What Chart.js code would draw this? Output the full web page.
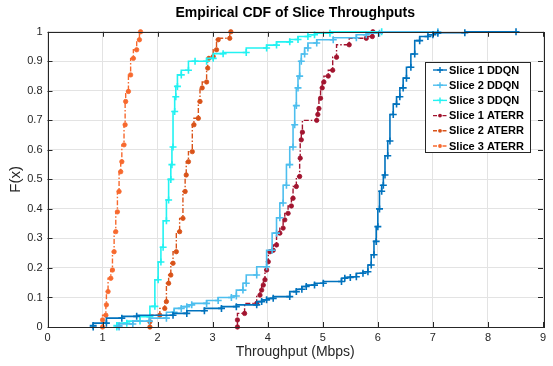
<!doctype html>
<html>
<head>
<meta charset="utf-8" />
<title>Empirical CDF of Slice Throughputs</title>
<style>
  html, body { margin:0; padding:0; background:#fff; }
  #wrap { width:553px; height:366px; }
</style>
<script src="https://cdn.jsdelivr.net/npm/chart.js"></script>
</head>
<body>
<div id="wrap"><canvas id="chart"></canvas></div>
<script>
// throughput (Mbps) and CDF values, one pair of arrays per series
const s1dX = [0.83,0.83,1.07,1.35,1.62,2.28,2.53,2.85,3.16,3.43,3.80,3.89,3.98,4.10,4.40,4.52,4.62,4.70,4.85,5.01,5.34,5.40,5.50,5.61,5.73,5.82,5.88,5.93,5.97,6.00,6.03,6.07,6.10,6.13,6.18,6.22,6.28,6.34,6.40,6.46,6.52,6.60,6.67,6.76,6.91,7.00,7.09,7.58,8.51];
const s1dF = [0,0.005,0.013,0.03,0.036,0.04,0.046,0.055,0.063,0.069,0.075,0.086,0.092,0.097,0.103,0.12,0.128,0.137,0.142,0.148,0.154,0.165,0.168,0.17,0.182,0.187,0.21,0.245,0.29,0.34,0.40,0.46,0.48,0.515,0.58,0.63,0.72,0.755,0.78,0.81,0.843,0.88,0.925,0.97,0.984,0.99,0.995,0.997,1.0];

const s2dX = [1.30,1.30,1.55,1.85,2.16,2.30,2.43,2.53,2.62,2.89,3.10,3.34,3.43,3.55,3.61,3.80,3.98,4.08,4.16,4.22,4.28,4.34,4.40,4.46,4.49,4.52,4.55,4.58,4.61,4.67,4.73,4.89,5.19,5.61,5.79,6.03,7.09];
const s2dF = [0,0.004,0.01,0.02,0.03,0.05,0.063,0.069,0.075,0.08,0.09,0.10,0.105,0.125,0.148,0.176,0.204,0.26,0.318,0.37,0.42,0.48,0.55,0.61,0.685,0.75,0.81,0.85,0.90,0.925,0.945,0.962,0.973,0.98,0.99,0.995,1.0];

const s3dX = [1.26,1.26,1.44,1.68,1.86,1.95,2.01,2.06,2.10,2.16,2.20,2.24,2.26,2.28,2.31,2.33,2.36,2.43,2.56,2.68,2.89,3.01,3.19,3.61,3.98,4.16,4.40,4.55,4.73,4.85,5.13,6.07];
const s3dF = [0,0.005,0.013,0.02,0.035,0.07,0.16,0.22,0.27,0.36,0.43,0.50,0.55,0.61,0.73,0.78,0.815,0.854,0.87,0.90,0.90,0.91,0.926,0.93,0.945,0.955,0.966,0.974,0.984,0.99,0.995,1.0];

const s1aX = [3.45,3.45,3.58,3.80,3.86,3.89,3.92,3.95,3.98,4.01,4.04,4.10,4.16,4.22,4.28,4.31,4.37,4.43,4.46,4.52,4.58,4.59,4.61,4.63,4.89,4.91,4.93,4.96,4.99,5.02,5.10,5.18,5.25,5.48,5.79,5.90,5.91];
const s1aF = [0,0.024,0.046,0.08,0.108,0.125,0.142,0.16,0.193,0.221,0.255,0.26,0.278,0.318,0.335,0.363,0.385,0.41,0.436,0.476,0.51,0.572,0.634,0.66,0.70,0.72,0.74,0.775,0.81,0.83,0.85,0.87,0.914,0.956,0.978,0.984,1.0];

const s2aX = [1.86,1.86,2.04,2.13,2.16,2.20,2.24,2.28,2.34,2.40,2.46,2.50,2.52,2.56,2.63,2.66,2.74,2.77,2.81,2.89,2.91,2.93,3.01,3.07,3.10,3.31,3.33];
const s2aF = [0,0.018,0.04,0.063,0.086,0.148,0.176,0.216,0.255,0.323,0.368,0.459,0.515,0.56,0.594,0.685,0.707,0.764,0.81,0.83,0.877,0.91,0.916,0.939,0.973,0.978,1.0];

const s3aX = [1.00,1.00,1.06,1.07,1.10,1.15,1.18,1.21,1.24,1.27,1.30,1.33,1.35,1.39,1.41,1.42,1.47,1.51,1.56,1.62,1.67,1.69];
const s3aF = [0,0.024,0.04,0.075,0.12,0.165,0.193,0.255,0.323,0.39,0.459,0.526,0.56,0.617,0.685,0.764,0.798,0.854,0.91,0.939,0.973,1.0];

const xTickLabels = ['0','1','2','3','4','5','6','7','8','9'];
const yTickLabels = ['0','0.1','0.2','0.3','0.4','0.5','0.6','0.7','0.8','0.9','1'];

const FONT = 'Arial, "Liberation Sans", Helvetica, sans-serif';
const AXIS = '#262626';

function pts(xs, fs) { return xs.map((x, i) => ({ x: x, y: fs[i] })); }

function ddqn(label, xs, fs, color) {
  return { label, data: pts(xs, fs), borderColor: color, backgroundColor: color,
    borderWidth: 1.6, stepped: 'after', pointStyle: 'cross', pointRadius: 3.5,
    pointBorderWidth: 1.6, pointBorderColor: color, clip: 6, kind: 'ddqn' };
}
function aterr(label, xs, fs, color) {
  return { label, data: pts(xs, fs), borderColor: color, backgroundColor: color,
    borderWidth: 1.4, borderDash: [5, 2, 1.5, 2], stepped: 'after', pointStyle: 'circle',
    pointRadius: 2.2, pointBorderWidth: 0.8, pointBackgroundColor: color, pointBorderColor: color,
    clip: 6, kind: 'aterr' };
}

// frame, inward ticks and the legend drawn inside the axes
const framePlugin = {
  id: 'frame',
  afterDatasetsDraw(chart) {
    const { ctx, chartArea: a, scales: { x, y } } = chart;
    ctx.save();
    ctx.strokeStyle = AXIS;
    ctx.lineWidth = 1;
    ctx.beginPath();
    x.ticks.forEach(t => {
      const px = Math.round(x.getPixelForValue(t.value)) + 0.5;
      ctx.moveTo(px, a.bottom); ctx.lineTo(px, a.bottom - 5);
      ctx.moveTo(px, a.top); ctx.lineTo(px, a.top + 5);
    });
    y.ticks.forEach(t => {
      const py = Math.round(y.getPixelForValue(t.value)) + 0.5;
      ctx.moveTo(a.left, py); ctx.lineTo(a.left + 5, py);
      ctx.moveTo(a.right, py); ctx.lineTo(a.right - 5, py);
    });
    ctx.stroke();
    ctx.strokeRect(Math.round(a.left) + 0.5, Math.round(a.top) + 0.5,
      Math.round(a.right - a.left), Math.round(a.bottom - a.top));

    // legend box
    const lx = 425, ly = 62, lw = 105, lh = 90, row = 15.2;
    ctx.fillStyle = '#fff';
    ctx.fillRect(lx, ly, lw, lh);
    ctx.strokeStyle = AXIS;
    ctx.strokeRect(lx + 0.5, ly + 0.5, lw, lh);
    ctx.font = 'bold 11px ' + FONT;
    ctx.textBaseline = 'middle';
    chart.data.datasets.forEach((ds, i) => {
      const cy = ly + 8 + i * row;
      ctx.strokeStyle = ds.borderColor;
      ctx.lineWidth = 1.4;
      ctx.setLineDash(ds.kind === 'aterr' ? [4, 2, 1.5, 2] : []);
      ctx.beginPath(); ctx.moveTo(lx + 8, cy); ctx.lineTo(lx + 22, cy); ctx.stroke();
      ctx.setLineDash([]);
      ctx.beginPath();
      if (ds.kind === 'ddqn') {
        ctx.moveTo(lx + 15, cy - 3); ctx.lineTo(lx + 15, cy + 3);
        ctx.moveTo(lx + 12, cy); ctx.lineTo(lx + 18, cy);
        ctx.stroke();
      } else {
        ctx.fillStyle = ds.borderColor;
        ctx.arc(lx + 15, cy, 1.9, 0, Math.PI * 2); ctx.fill();
      }
      ctx.fillStyle = '#000';
      ctx.fillText(ds.label, lx + 24, cy + 0.5);
    });
    ctx.restore();
  }
};

new Chart(document.getElementById('chart').getContext('2d'), {
  type: 'line',
  data: {
    datasets: [
      ddqn('Slice 1 DDQN', s1dX, s1dF, '#0072BD'),
      ddqn('Slice 2 DDQN', s2dX, s2dF, '#4DBEEE'),
      ddqn('Slice 3 DDQN', s3dX, s3dF, '#22F2F2'),
      aterr('Slice 1 ATERR', s1aX, s1aF, '#A2142F'),
      aterr('Slice 2 ATERR', s2aX, s2aF, '#D95319'),
      aterr('Slice 3 ATERR', s3aX, s3aF, '#F7692E')
    ]
  },
  options: {
    responsive: true,
    maintainAspectRatio: false,
    animation: false,
    devicePixelRatio: 1,
    layout: { padding: { left: 0, right: 10, top: 0, bottom: 0 } },
    plugins: {
      legend: { display: false },
      tooltip: { enabled: false },
      title: {
        display: true, text: 'Empirical CDF of Slice Throughputs', color: '#000',
        fullSize: false, font: { family: FONT, size: 14, weight: 'bold' },
        padding: { top: 5, bottom: 10 }
      }
    },
    scales: {
      x: {
        type: 'linear', min: 0, max: 9,
        ticks: { stepSize: 1, color: AXIS, font: { family: FONT, size: 11 }, padding: 4,
          callback: v => xTickLabels[v] },
        grid: { color: '#e3e3e3', drawTicks: false },
        border: { display: false },
        title: { display: true, text: 'Throughput (Mbps)', color: AXIS,
          font: { family: FONT, size: 14 }, padding: { top: 2, bottom: 5 } },
        afterFit: s => { s.height = 39; }
      },
      y: {
        type: 'linear', min: 0, max: 1,
        ticks: { stepSize: 0.1, color: AXIS, font: { family: FONT, size: 11 }, padding: 5,
          callback: v => yTickLabels[Math.round(v * 10)] },
        grid: { color: '#e3e3e3', drawTicks: false },
        border: { display: false },
        title: { display: true, text: 'F(x)', color: AXIS,
          font: { family: FONT, size: 15 }, padding: { top: 7, bottom: 4 } },
        afterFit: s => { s.width = 47.5; }
      }
    }
  },
  plugins: [framePlugin]
});
</script>
</body>
</html>
